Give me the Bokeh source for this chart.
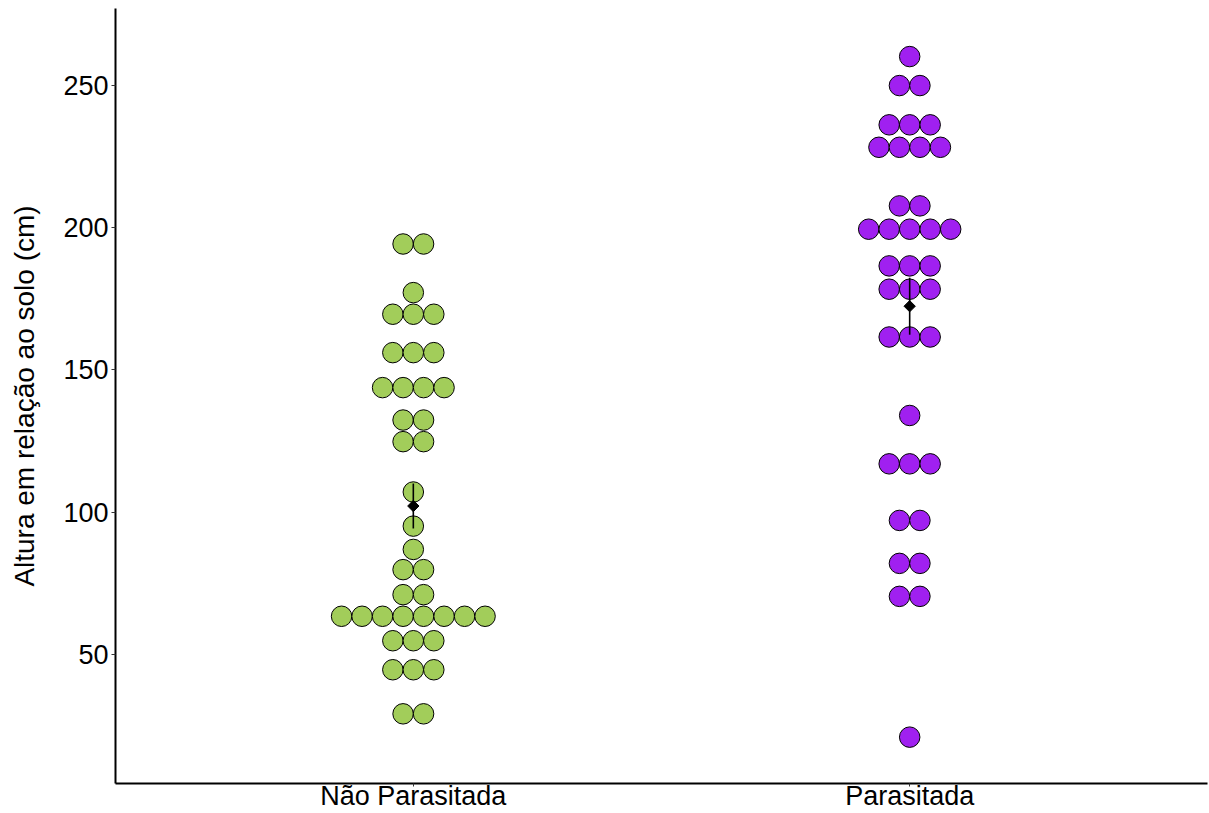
import numpy as np
from bokeh.plotting import figure
from bokeh.models import Range1d, FixedTicker, ColumnDataSource
from bokeh.embed import file_html
from bokeh.resources import INLINE

# Heights above ground (cm) for each group
categories = ["Não Parasitada", "Parasitada"]
fill_colors = ["#A2CD5A", "#A020F0"]

nao_parasitada = [
    194.3, 194.3,
    177.2,
    169.6, 169.6, 169.6,
    156.1, 156.1, 156.1,
    143.8, 143.8, 143.8, 143.8,
    132.4, 132.4,
    124.8, 124.8,
    107.1,
    95.1,
    86.9,
    79.8, 79.8,
    71.0, 71.0,
    63.4, 63.4, 63.4, 63.4, 63.4, 63.4, 63.4, 63.4,
    54.8, 54.8, 54.8,
    44.6, 44.6, 44.6,
    29.1, 29.1,
]

parasitada = [
    260.2,
    250.0, 250.0,
    236.2, 236.2, 236.2,
    228.3, 228.3, 228.3, 228.3,
    207.7, 207.7,
    199.5, 199.5, 199.5, 199.5, 199.5,
    186.6, 186.6, 186.6,
    178.4, 178.4, 178.4,
    161.6, 161.6, 161.6,
    134.0,
    117.0, 117.0, 117.0,
    97.1, 97.1,
    82.0, 82.0,
    70.4, 70.4,
    20.9,
]

y_ticks = [50, 100, 150, 200, 250]

groups = [nao_parasitada, parasitada]

FONT = "Liberation Sans"
DOT_PX = 20.5          # dot diameter in screen pixels
X_LO, X_HI = 0.4, 2.6
FRAME_W = 1092

p = figure(
    width=1209, height=813,
    output_backend="svg", toolbar_location=None,
    x_range=Range1d(X_LO, X_HI), y_range=Range1d(4.6, 277.1),
    min_border_left=115, min_border_right=2, min_border_top=8, min_border_bottom=0,
)
p.outline_line_color = None
p.xgrid.visible = False
p.ygrid.visible = False
p.background_fill_color = "white"
p.border_fill_color = "white"

# dot width in data units along x
binw = DOT_PX * (X_HI - X_LO) / FRAME_W

for i, (vals, color) in enumerate(zip(groups, fill_colors)):
    center = i + 1
    vals = np.asarray(vals, dtype=float)
    xs, ys = [], []
    for v in sorted(set(vals.tolist())):
        n = int(np.sum(vals == v))
        for k in range(n):
            xs.append(center + (k - (n - 1) / 2) * binw)
            ys.append(v)
    src = ColumnDataSource(dict(x=xs, y=ys))
    p.scatter("x", "y", source=src, size=DOT_PX, fill_color=color,
              line_color="black", line_width=1)

# mean +/- standard error on top of the dots
for i, vals in enumerate(groups):
    vals = np.asarray(vals, dtype=float)
    m = vals.mean()
    se = vals.std(ddof=1) / np.sqrt(len(vals))
    p.segment(x0=[i + 1], y0=[m - se], x1=[i + 1], y1=[m + se],
              line_color="black", line_width=1.6)
    p.scatter(x=[i + 1], y=[m], marker="square", angle=np.pi / 4, size=8,
              fill_color="black", line_color="black")

# axes
p.xaxis.ticker = FixedTicker(ticks=[1, 2])
p.xaxis.major_label_overrides = {1: categories[0], 2: categories[1]}
p.yaxis.ticker = FixedTicker(ticks=y_ticks)
p.yaxis.axis_label = "Altura em relação ao solo (cm)"

for ax in (p.xaxis, p.yaxis):
    ax.axis_line_color = "black"
    ax.axis_line_width = 2
    ax.major_tick_line_color = "#333333"
    ax.major_tick_in = 0
    ax.minor_tick_line_color = None
    ax.major_label_text_font = FONT
    ax.major_label_text_font_size = "27px"
    ax.major_label_text_color = "black"
    ax.axis_label_text_font = FONT
    ax.axis_label_text_font_size = "28px"
    ax.axis_label_text_font_style = "normal"
    ax.axis_label_text_color = "black"

p.yaxis.major_tick_out = 4
p.yaxis.major_label_standoff = 3
p.yaxis.axis_label_standoff = 20

p.xaxis.major_tick_out = 3
p.xaxis.major_label_standoff = -6

open("out.html", "w").write(file_html(p, INLINE))
